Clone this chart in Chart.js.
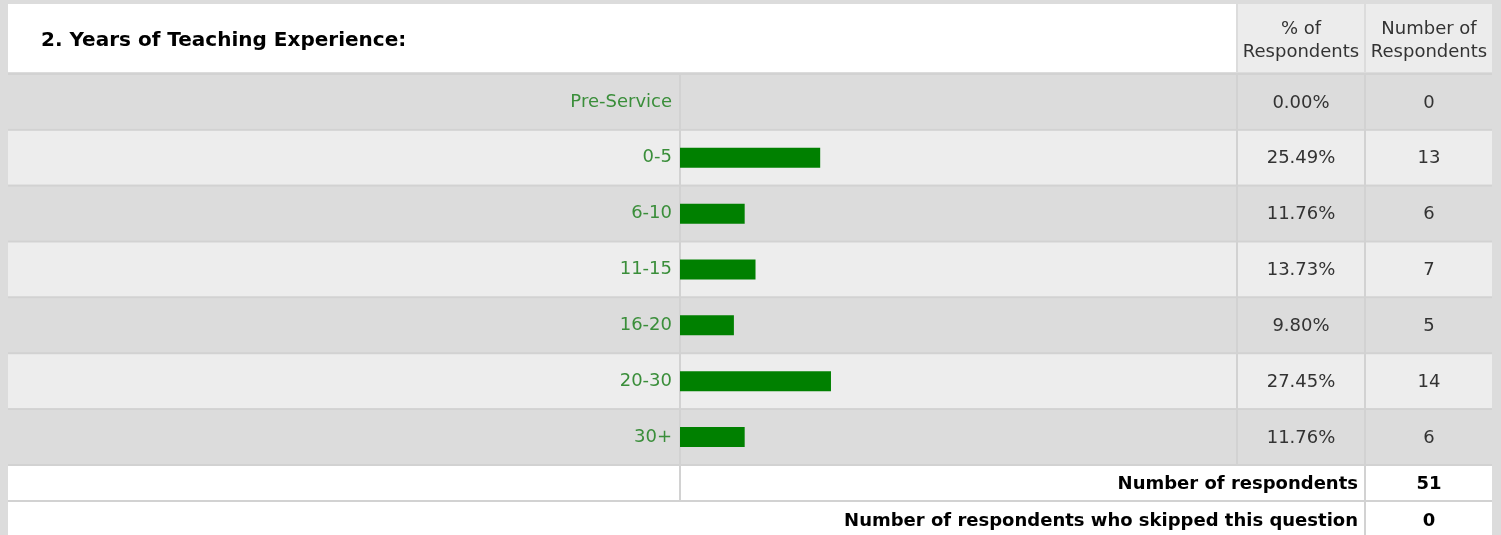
<!DOCTYPE html>
<html>
<head>
<meta charset="utf-8">
<script src="https://cdn.jsdelivr.net/npm/chart.js@4/dist/chart.umd.min.js"></script>
<style>
  html, body { margin: 0; padding: 0; background: #dcdcdc; }
  canvas { display: block; }
</style>
</head>
<body>
<canvas id="c" width="1501" height="535"></canvas>
<script>
// 数据
const title = '2. Years of Teaching Experience:';
const categories = ['Pre-Service', '0-5', '6-10', '11-15', '16-20', '20-30', '30+'];
const percents = [0.00, 25.49, 11.76, 13.73, 9.80, 27.45, 11.76];
const counts = [0, 13, 6, 7, 5, 14, 6];
const pctHeader = ['% of', 'Respondents'];
const countHeader = ['Number of', 'Respondents'];
const totalLabel = 'Number of respondents';
const totalRespondents = 51;
const skippedLabel = 'Number of respondents who skipped this question';
const skipped = 0;

const FONT = '"DejaVu Sans", Tahoma, Verdana, sans-serif';
const LINE = '#d2d2d2';

// 表格背景、表头、右侧两列
const tablePlugin = {
    id: 'table',
    beforeDraw(chart) {
        const ctx = chart.ctx;
        const y = chart.scales.y;
        const half = (y.getPixelForValue(1) - y.getPixelForValue(0)) / 2;
        ctx.save();
        ctx.fillStyle = '#dcdcdc';
        ctx.fillRect(0, 0, chart.width, chart.height);

        // 表头
        ctx.fillStyle = '#ffffff';
        ctx.fillRect(8, 4, 1228, 68);
        ctx.fillStyle = '#ececec';
        ctx.fillRect(1238, 4, 126, 68);
        ctx.fillRect(1366, 4, 126, 68);

        // 行
        categories.forEach((c, i) => {
            const cy = y.getPixelForValue(i);
            ctx.fillStyle = i % 2 === 0 ? '#dcdcdc' : '#ededed';
            ctx.fillRect(8, cy - half + 1, 1484, half * 2 - 2);
            ctx.fillStyle = LINE;
            ctx.fillRect(8, cy + half - 1, 1484, 2);
        });
        const top = y.getPixelForValue(0) - half;
        const bottom = y.getPixelForValue(categories.length - 1) + half;
        ctx.fillStyle = LINE;
        ctx.fillRect(8, top - 1, 1484, 2);

        // 汇总行
        ctx.fillStyle = '#ffffff';
        ctx.fillRect(8, bottom + 1, 1356, 34);
        ctx.fillRect(1366, bottom + 1, 126, 34);
        ctx.fillRect(8, bottom + 37, 1356, 40);
        ctx.fillRect(1366, bottom + 37, 126, 40);
        ctx.fillStyle = LINE;
        ctx.fillRect(8, bottom + 35, 1484, 2);

        // 竖线
        ctx.fillRect(679, top, 2, bottom + 35 - top);
        ctx.fillRect(1236, top, 2, bottom - top);
        ctx.fillRect(1364, top, 2, 535 - top);
        ctx.restore();
    },
    afterDraw(chart) {
        const ctx = chart.ctx;
        const y = chart.scales.y;
        const half = (y.getPixelForValue(1) - y.getPixelForValue(0)) / 2;
        const bottom = y.getPixelForValue(categories.length - 1) + half;
        ctx.save();
        ctx.textBaseline = 'middle';

        ctx.fillStyle = '#000';
        ctx.font = 'bold 20px ' + FONT;
        ctx.textAlign = 'left';
        ctx.fillText(title, 41, 41);

        ctx.font = '18px ' + FONT;
        ctx.fillStyle = '#333';
        ctx.textAlign = 'center';
        ctx.fillText(pctHeader[0], 1301, 29);
        ctx.fillText(pctHeader[1], 1301, 52);
        ctx.fillText(countHeader[0], 1429, 29);
        ctx.fillText(countHeader[1], 1429, 52);

        categories.forEach((c, i) => {
            const cy = y.getPixelForValue(i);
            ctx.fillText(percents[i].toFixed(2) + '%', 1301, cy + 1);
            ctx.fillText(String(counts[i]), 1429, cy + 1);
        });

        ctx.fillStyle = '#000';
        ctx.font = 'bold 18px ' + FONT;
        ctx.textAlign = 'right';
        ctx.fillText(totalLabel, 1358, bottom + 19);
        ctx.fillText(skippedLabel, 1358, bottom + 56);
        ctx.textAlign = 'center';
        ctx.fillText(String(totalRespondents), 1429, bottom + 19);
        ctx.fillText(String(skipped), 1429, bottom + 56);
        ctx.restore();
    }
};

new Chart(document.getElementById('c'), {
    type: 'bar',
    data: {
        labels: categories,
        datasets: [{
            data: percents,
            backgroundColor: '#008000',
            borderWidth: 0,
            inflateAmount: 0,
            barThickness: 20
        }]
    },
    options: {
        indexAxis: 'y',
        responsive: false,
        animation: false,
        devicePixelRatio: 1,
        layout: { padding: { left: 0, top: 74, right: 271, bottom: 70 } },
        plugins: {
            legend: { display: false },
            tooltip: { enabled: false }
        },
        scales: {
            x: { display: false, min: 0, max: 100 },
            y: {
                grid: { display: false, drawTicks: false },
                border: { display: false },
                ticks: {
                    color: '#3a8e3a',
                    padding: 8,
                    font: { family: FONT, size: 18 }
                },
                afterFit(scale) { scale.width = 680; }
            }
        }
    },
    plugins: [tablePlugin]
});
</script>
</body>
</html>
